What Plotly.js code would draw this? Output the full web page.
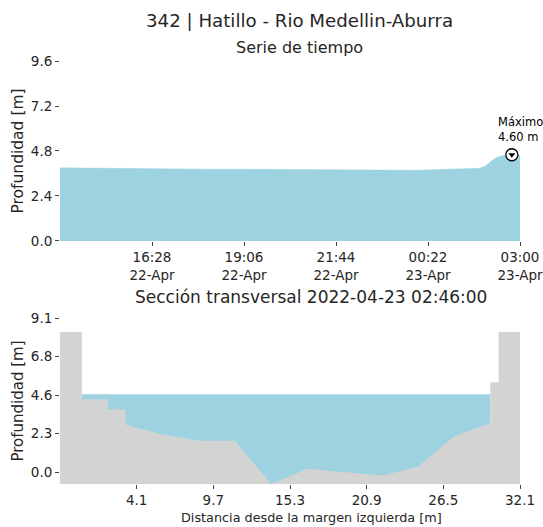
<!DOCTYPE html>
<html>
<head>
<meta charset="utf-8">
<script src="https://cdn.plot.ly/plotly-3.0.1.min.js"></script>
<style>html,body{margin:0;padding:0;background:#fff;}#chart{width:543px;height:527px;}</style>
</head>
<body>
<div id="chart"></div>
<script>
// ---- Time series data ----
const times = [
  "2022-04-22 13:50","2022-04-22 15:00","2022-04-22 16:00","2022-04-22 17:00",
  "2022-04-22 18:00","2022-04-22 19:00","2022-04-22 20:00","2022-04-22 21:00",
  "2022-04-22 22:00","2022-04-22 23:00","2022-04-22 23:30","2022-04-23 00:00",
  "2022-04-23 00:30","2022-04-23 01:00","2022-04-23 01:30","2022-04-23 01:50",
  "2022-04-23 02:00","2022-04-23 02:10","2022-04-23 02:20","2022-04-23 02:30",
  "2022-04-23 02:40","2022-04-23 02:46","2022-04-23 03:00"
];
const depth = [3.90,3.87,3.85,3.84,3.83,3.83,3.81,3.80,3.78,3.76,3.75,3.77,
               3.80,3.82,3.85,3.88,3.98,4.25,4.45,4.55,4.59,4.60,4.57];
const timeTickVals = ["2022-04-22 16:28","2022-04-22 19:06","2022-04-22 21:44","2022-04-23 00:22","2022-04-23 03:00"];
const timeTickText = ["16:28<br>22-Apr","19:06<br>22-Apr","21:44<br>22-Apr","00:22<br>23-Apr","03:00<br>23-Apr"];
const depthTicks = [0, 2.4, 4.8, 7.2, 9.6];
const depthTickText = ["0.0","2.4","4.8","7.2","9.6"];

// ---- Cross-section data ----
const sectionX = [-1.5,0.10,0.10,2.0,2.0,3.31,3.31,5.8,8.7,11.26,13.94,16.56,22.03,24.63,27.3,29.93,29.93,30.54,30.54,32.1];
const sectionY = [8.27,8.27,4.30,4.30,3.70,3.70,2.80,2.25,1.85,1.85,-0.70,0.20,-0.20,0.31,2.13,2.88,5.30,5.30,8.27,8.27];
const waterLevel = 4.60;
const sectionTickVals = [4.1, 9.7, 15.3, 20.9, 26.5, 32.1];
const sectionTickText = ["4.1","9.7","15.3","20.9","26.5","32.1"];
const sectionYTicks = [0, 2.275, 4.55, 6.825, 9.1];
const sectionYTickText = ["0.0","2.3","4.6","6.8","9.1"];

const WATER = "#9dd2e0";
const GROUND = "#d3d3d3";
const TXT = "#262626";
const FONT = "DejaVu Sans, sans-serif";

// max point
let iMax = 0;
depth.forEach((v,i)=>{ if (v > depth[iMax]) iMax = i; });

// ground polygon closed down to the minimum
const yMin = Math.min(...sectionY);
const groundX = [sectionX[0], ...sectionX, sectionX[sectionX.length-1]];
const groundY = [yMin, ...sectionY, yMin];

// water extent: between first and last points below the level
let wi = sectionY.findIndex(v => v < waterLevel);
let wj = sectionY.length - 1 - [...sectionY].reverse().findIndex(v => v < waterLevel);
const waterX = [sectionX[wi], sectionX[wi], sectionX[wj], sectionX[wj]];
const waterY = [yMin, waterLevel, waterLevel, yMin];

const traces = [
  {x: times, y: depth, type: "scatter", mode: "lines", fill: "tozeroy",
   fillcolor: WATER, line: {color: WATER, width: 0.5}, xaxis: "x", yaxis: "y", hoverinfo: "skip"},
  {x: [times[iMax]], y: [depth[iMax]], type: "scatter", mode: "markers",
   marker: {symbol: "circle", size: 12, color: "white", line: {color: "black", width: 1.3}}, xaxis: "x", yaxis: "y"},
  {x: [times[iMax]], y: [depth[iMax]], type: "scatter", mode: "markers",
   marker: {symbol: "triangle-down", size: 6, color: "black"}, xaxis: "x", yaxis: "y"},
  {x: waterX, y: waterY, type: "scatter", mode: "lines", fill: "toself",
   fillcolor: WATER, line: {width: 0}, xaxis: "x2", yaxis: "y2", hoverinfo: "skip"},
  {x: groundX, y: groundY, type: "scatter", mode: "lines", fill: "toself",
   fillcolor: GROUND, line: {width: 0}, xaxis: "x2", yaxis: "y2", hoverinfo: "skip"}
];

const axisCommon = {
  showgrid: false, zeroline: false, showline: false,
  ticks: "outside", ticklen: 4, tickwidth: 1, tickcolor: "#444",
  tickfont: {family: FONT, size: 13.5, color: TXT}, fixedrange: true,
  ticklabeloverflow: "allow"
};

const layout = {
  width: 543, height: 527,
  margin: {l: 60, r: 23, t: 61, b: 43},
  paper_bgcolor: "white", plot_bgcolor: "white",
  showlegend: false,
  font: {family: FONT, color: TXT},
  xaxis: Object.assign({}, axisCommon, {
    type: "date", domain: [0, 1], anchor: "y",
    range: ["2022-04-22 13:50", "2022-04-23 03:00"],
    tickmode: "array", tickvals: timeTickVals, ticktext: timeTickText
  }),
  yaxis: Object.assign({}, axisCommon, {
    domain: [0.5745, 1], anchor: "x", range: [0, 9.6],
    tickmode: "array", tickvals: depthTicks, ticktext: depthTickText,
    title: {text: "Profundidad [m]", font: {family: FONT, size: 15.5, color: TXT}, standoff: 3}
  }),
  xaxis2: Object.assign({}, axisCommon, {
    domain: [0, 1], anchor: "y2", range: [-1.5, 32.1],
    tickmode: "array", tickvals: sectionTickVals, ticktext: sectionTickText
  }),
  yaxis2: Object.assign({}, axisCommon, {
    domain: [0, 0.3924], anchor: "x2", range: [yMin, 9.1],
    tickmode: "array", tickvals: sectionYTicks, ticktext: sectionYTickText,
    title: {text: "Profundidad [m]", font: {family: FONT, size: 15, color: TXT}, standoff: 3}
  }),
  annotations: [
    {text: "342 | Hatillo - Rio Medellin-Aburra", xref: "paper", yref: "paper", x: 0.5,
     y: 1, yshift: 41, xshift: 9, xanchor: "center", yanchor: "middle", showarrow: false,
     font: {family: FONT, size: 18.2, color: TXT}},
    {text: "Serie de tiempo", xref: "paper", yref: "paper", x: 0.5,
     y: 1, yshift: 14, xshift: 9, xanchor: "center", yanchor: "middle", showarrow: false,
     font: {family: FONT, size: 16, color: TXT}},
    {text: "Sección transversal 2022-04-23 02:46:00", xref: "paper", yref: "paper", x: 0.5,
     y: 0.3924, yshift: 21, xshift: 21, xanchor: "center", yanchor: "middle", showarrow: false,
     font: {family: FONT, size: 17, color: TXT}},
    {text: "Distancia desde la margen izquierda [m]", xref: "paper", yref: "paper", x: 0.5,
     y: 0, yshift: -33, xshift: 21, xanchor: "center", yanchor: "middle", showarrow: false,
     font: {family: FONT, size: 12.8, color: TXT}},
    {text: "Máximo<br>" + depth[iMax].toFixed(2) + " m", xref: "x", yref: "y",
     x: times[iMax], y: depth[iMax], xanchor: "left", yanchor: "bottom", align: "left",
     xshift: -16, yshift: 9, showarrow: false,
     font: {family: FONT, size: 11.5, color: "black"}}
  ]
};

Plotly.newPlot("chart", traces, layout, {displayModeBar: false, staticPlot: true});
</script>
</body>
</html>
